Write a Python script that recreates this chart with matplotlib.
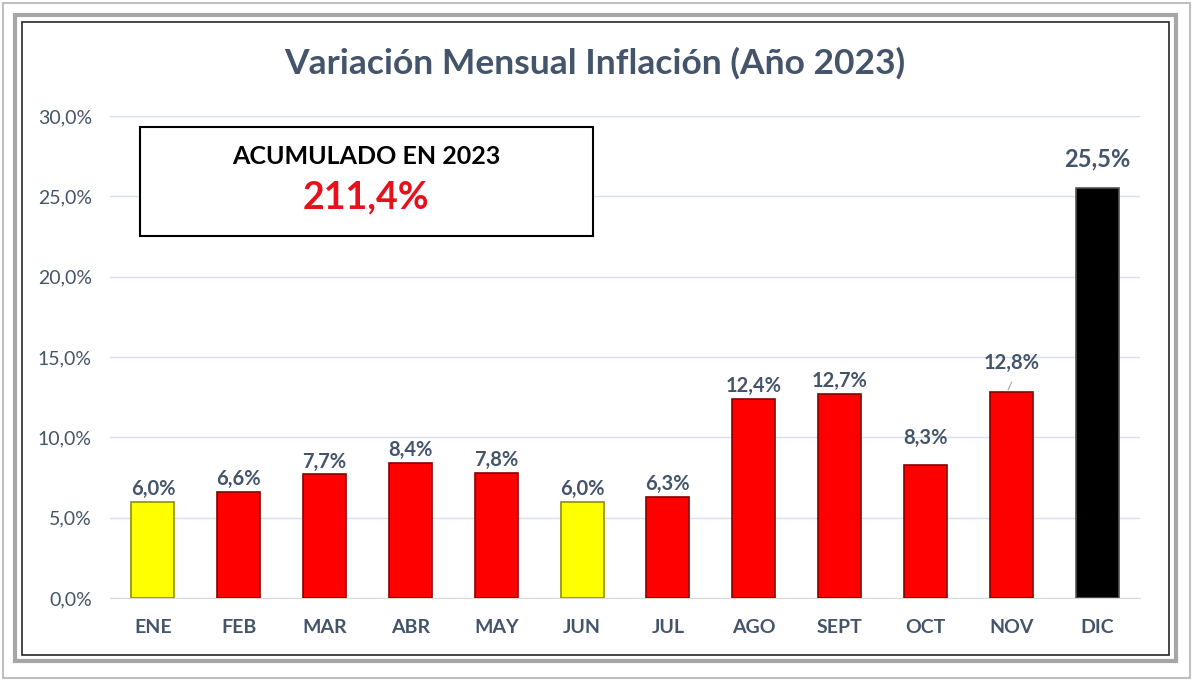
import matplotlib.pyplot as plt
from matplotlib.patches import Rectangle

# Data
meses = ['ENE', 'FEB', 'MAR', 'ABR', 'MAY', 'JUN', 'JUL', 'AGO', 'SEPT', 'OCT', 'NOV', 'DIC']
inflacion = [6.0, 6.6, 7.7, 8.4, 7.8, 6.0, 6.3, 12.4, 12.7, 8.3, 12.8, 25.5]
colores = ['#FFFF00', '#FF0000', '#FF0000', '#FF0000', '#FF0000', '#FFFF00',
           '#FF0000', '#FF0000', '#FF0000', '#FF0000', '#FF0000', '#000000']
acumulado = '211,4%'

bordes = {'#FFFF00': '#8F8F00', '#FF0000': '#8B0000', '#000000': '#555555'}
# label offsets above bar (points)
offsets = [2, 2, 2, 2, 2, 2, 2, 2, 2, 12, 14, 13]

plt.rcParams['font.family'] = ['Lato', 'DejaVu Sans']
txt = '#44546A'

fig = plt.figure(figsize=(12, 6.87), dpi=100)
fig.patch.set_facecolor('white')

# frames (pixel coords -> figure coords)
W, H = 1200, 687
def rect(x0, y0, x1, y1, **kw):
    fig.patches.append(Rectangle((x0 / W, 1 - y1 / H), (x1 - x0) / W, (y1 - y0) / H,
                                 transform=fig.transFigure, fill=False, **kw))

rect(3, 3, 1190, 678, edgecolor='#BFBFBF', linewidth=1.5)
rect(15, 15, 1176, 661, edgecolor='#A6A6A6', linewidth=3)
rect(22, 22, 1169, 655, edgecolor='#262626', linewidth=1.2)

ax = fig.add_axes([110 / W, 1 - 598 / H, 1030 / W, 482 / H])
x = range(len(meses))
bars = ax.bar(x, inflacion, width=0.5, color=colores,
              edgecolor=[bordes[c] for c in colores], linewidth=1.2, zorder=3)

for i, (b, v) in enumerate(zip(bars, inflacion)):
    size = 17 if i == len(meses) - 1 else 14.5
    ax.annotate(f'{v:.1f}%'.replace('.', ','), (b.get_x() + b.get_width() / 2, v),
                xytext=(0, offsets[i]), textcoords='offset points',
                ha='center', va='bottom', fontsize=size, fontweight='bold', color=txt)

# leader line for NOV
ax.annotate('', xy=(10 - 0.05, inflacion[10]), xytext=(10 + 0.02, inflacion[10] + 0.8),
            arrowprops=dict(arrowstyle='-', color='#A6A6A6', lw=0.8))

ax.set_xlim(-0.5, len(meses) - 0.5)
ax.set_ylim(0, 30)
ax.set_yticks(range(0, 31, 5))
ax.set_yticklabels([f'{t:.1f}%'.replace('.', ',') for t in range(0, 31, 5)],
                   fontsize=14, color=txt)
ax.set_xticks(list(x))
ax.set_xticklabels(meses, fontsize=14, fontweight='bold', color=txt)
ax.tick_params(axis='both', length=0)
ax.tick_params(axis='x', pad=15)
ax.tick_params(axis='y', pad=13)
ax.grid(axis='y', color='#D6DFEE', linewidth=1, zorder=0)
for s in ['top', 'right', 'left']:
    ax.spines[s].set_visible(False)
ax.spines['bottom'].set_color('#D9D9D9')

fig.text(595 / W, 1 - 63 / H, 'Variación Mensual Inflación (Año 2023)', ha='center', va='center',
         fontsize=25.5, fontweight='bold', color=txt)

# Accumulated box
fig.patches.append(Rectangle((140 / W, 1 - 236 / H), 453 / W, 109 / H,
                             transform=fig.transFigure, facecolor='white',
                             edgecolor='black', linewidth=1.5, zorder=5))
fig.text(366 / W, 1 - 157 / H, 'ACUMULADO EN 2023', ha='center', va='center',
         fontsize=18, fontweight='bold', color='black', zorder=6)
fig.text(366 / W, 1 - 197 / H, acumulado, ha='center', va='center',
         fontsize=27, fontweight='bold', color='#E8101A', zorder=6)

fig.savefig('out.png', dpi=100)
